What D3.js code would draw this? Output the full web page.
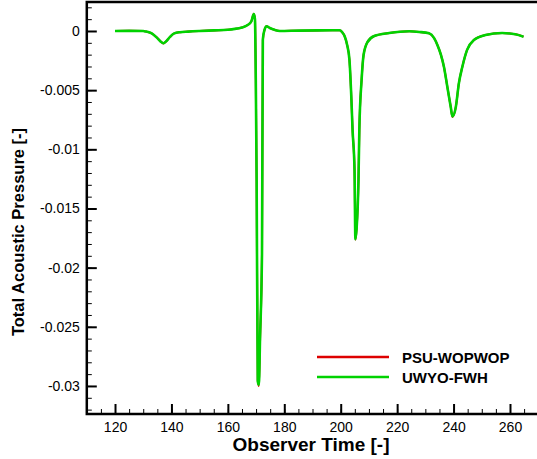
<!DOCTYPE html>
<html>
<head>
<meta charset="utf-8">
<script src="https://cdn.jsdelivr.net/npm/d3@7"></script>
<style>
  body { margin: 0; background: #fff; }
  svg { display: block; font-family: "Liberation Sans", Arial, Helvetica, sans-serif; }
  .tick text { font-size: 14px; fill: #000; }
  .axTitle { font-size: 19px; font-weight: bold; }
  .yTitle { font-size: 16.5px; }
  .legText { font-size: 15px; font-weight: bold; }
</style>
</head>
<body>
<svg id="chart" width="537" height="459"></svg>
<script>
// observer time samples
var time = [120, 125, 130, 131, 133, 135, 136.5, 137.2, 138, 139.5, 141, 143, 146, 150, 155, 160, 163, 165, 167, 168.3,
  169.2, 169.6, 169.9, 170.2, 170.6, 171, 171.4, 172.1, 172.4, 173, 173.7, 174.9, 176.5, 178.4, 185, 192, 197, 199.6,
  200.5, 201.4, 202.3, 203.1, 203.8, 204.2, 204.9, 205.2, 205.6, 206.3, 206.6, 207.4, 208.1, 209.5, 211.9, 217.2, 224.3, 227.8,
  231.3, 233.1, 234.3, 235.5, 236.6, 237.8, 239, 239.6, 240.8, 241.9, 243.1, 244.8, 247.2, 251.3, 257.2, 261.9, 264.8];

// PSU-WOPWOP
var psuWopwop = [0, 0.00001, 0, -0.00005, -0.0002, -0.0006, -0.00095, -0.00105, -0.0009, -0.0005, -0.0002, -0.0001, -0.00005, 0, 0.00005, 0.0001, 0.0002, 0.0003, 0.0005, 0.0008,
  0.00145, 0.001, -0.004, -0.0128, -0.0295, -0.0300, -0.0262, -0.0189, -0.0008, 0.0001, 0.0004, 0.00025, 0.0001, 0, 0.00003, 0.00005, 0.00006, 0.00006,
  -0.0001, -0.00045, -0.0012, -0.00245, -0.00583, -0.00836, -0.01174, -0.01765, -0.0168, -0.01258, -0.00836, -0.00414, -0.00203, -0.00093, -0.00042, -0.00017, -0.00002, -0.00008,
  -0.0002, -0.0006, -0.0012, -0.002, -0.00304, -0.00473, -0.00642, -0.00726, -0.00642, -0.00439, -0.00304, -0.0016, -0.00076, -0.00034, -0.00017, -0.00028, -0.00048];

// UWYO-FWH
var uwyoFwh = [0, 0.00001, 0, -0.00005, -0.0002, -0.0006, -0.00095, -0.00104, -0.0009, -0.0005, -0.0002, -0.0001, -0.00005, 0, 0.00005, 0.0001, 0.0002, 0.0003, 0.0005, 0.0008,
  0.00143, 0.001, -0.0041, -0.0127, -0.0296, -0.0299, -0.0260, -0.0188, -0.0007, 0.0001, 0.0004, 0.00025, 0.0001, 0, 0.00003, 0.00005, 0.00006, 0.00006,
  -0.0001, -0.00045, -0.0012, -0.00245, -0.00583, -0.00836, -0.01174, -0.01760, -0.0168, -0.01258, -0.00836, -0.00414, -0.00203, -0.00093, -0.00042, -0.00017, -0.00002, -0.00008,
  -0.0002, -0.0006, -0.0012, -0.002, -0.00304, -0.00473, -0.00642, -0.00722, -0.00642, -0.00439, -0.00304, -0.0016, -0.00076, -0.00034, -0.00017, -0.00028, -0.00048];

var xTicks = [120, 140, 160, 180, 200, 220, 240, 260];
var yTicks = [0, -0.005, -0.01, -0.015, -0.02, -0.025, -0.03];
var seriesNames = ["PSU-WOPWOP", "UWYO-FWH"];
var seriesColors = ["#dd0000", "#00d200"];

var svg = d3.select("#chart");
var plotL = 86.8, plotR = 538.2, plotT = 2, plotB = 414;

var x = d3.scaleLinear().domain([110, 270]).range([plotL, plotR]);
var y = d3.scaleLinear().domain([-0.03237, 0.00245]).range([plotB, plotT]);

// minor ticks
svg.append("g")
  .attr("transform", "translate(0," + plotB + ")")
  .call(d3.axisBottom(x).tickValues(d3.range(115, 270, 5)).tickSize(-5).tickFormat(""))
  .call(function(g){ g.select(".domain").remove(); g.selectAll("line").attr("stroke-width", 1); });
svg.append("g")
  .attr("transform", "translate(" + plotL + ",0)")
  .call(d3.axisLeft(y).tickValues(d3.range(-32, 3, 1).map(function(d){ return d / 1000; })).tickSize(-5).tickFormat(""))
  .call(function(g){ g.select(".domain").remove(); g.selectAll("line").attr("stroke-width", 1); });

// major ticks
svg.append("g")
  .attr("transform", "translate(0," + plotB + ")")
  .call(d3.axisBottom(x).tickValues(xTicks).tickSize(-10).tickPadding(8).tickFormat(d3.format("d")))
  .call(function(g){ g.select(".domain").remove(); g.selectAll("line").attr("stroke-width", 2); });
svg.append("g")
  .attr("transform", "translate(" + plotL + ",0)")
  .call(d3.axisLeft(y).tickValues(yTicks).tickSize(-10).tickPadding(7)
    .tickFormat(function(d){ return d === 0 ? "0" : String(+d.toFixed(3)); }))
  .call(function(g){ g.select(".domain").remove(); g.selectAll("line").attr("stroke-width", 2); });

// curves
var line = d3.line()
  .x(function(d){ return x(d[0]); })
  .y(function(d){ return y(d[1]); })
  .curve(d3.curveMonotoneX);

[psuWopwop, uwyoFwh].forEach(function(vals, i){
  svg.append("path")
    .datum(time.map(function(t, j){ return [t, vals[j]]; }))
    .attr("fill", "none")
    .attr("stroke", seriesColors[i])
    .attr("stroke-width", i === 0 ? 2 : 2.6)
    .attr("d", line);
});

// frame
svg.append("path")
  .attr("d", "M" + plotR + "," + plotT + "H" + plotL + "V" + plotB + "H" + plotR)
  .attr("fill", "none").attr("stroke", "#000").attr("stroke-width", 2.5);

// legend
seriesNames.forEach(function(n, i){
  var ly = 357 + i * 20;
  svg.append("line").attr("x1", 317).attr("x2", 389).attr("y1", ly).attr("y2", ly)
    .attr("stroke", seriesColors[i]).attr("stroke-width", 2.6);
  svg.append("text").attr("class", "legText").attr("x", 402).attr("y", ly + 5.5).text(n);
});

// axis titles
svg.append("text").attr("class", "axTitle").attr("text-anchor", "middle")
  .attr("x", 311).attr("y", 451).text("Observer Time [-]");
svg.append("text").attr("class", "axTitle yTitle").attr("text-anchor", "middle")
  .attr("transform", "translate(24,232) rotate(-90)").text("Total Acoustic Pressure [-]");
</script>
</body>
</html>
